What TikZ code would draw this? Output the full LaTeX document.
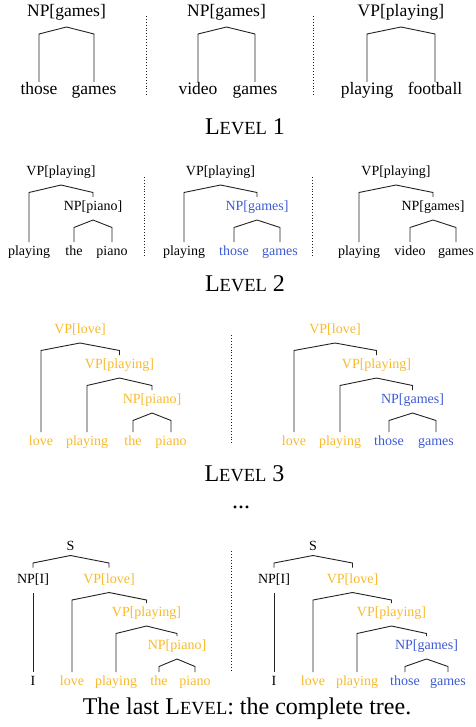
\documentclass[tikz,border=0pt]{standalone}
\usepackage{fontspec}
\setmainfont{Liberation Serif}
\usetikzlibrary{calc}
\definecolor{yel}{HTML}{F9B92A}
\definecolor{blu}{HTML}{3D5AD6}
\definecolor{edgec}{HTML}{222222}
\newcommand{\apx}{12}
\newcommand{\crn}{7.5}
\newcommand{\lgp}{11}
% #1 parent, #2 left child, #3 right child
\newcommand{\branch}[3]{%
  \path ($(#1)+(0,\apx)$) coordinate (#1-ap) ++(0,\crn) coordinate (#1-co);
  \draw[edge] ($(#2)+(0,-\lgp)$) -- (#2 |- #1-co) -- (#1-ap) -- (#3 |- #1-co) -- ($(#3)+(0,-\lgp)$);
}
\newcommand{\lvl}[1]{\fontsize{24}{28}\selectfont L{\fontsize{18.5}{22}\selectfont EVEL}#1}
\begin{document}
\begin{tikzpicture}[x=1pt,y=-1pt,
  edge/.style={draw=edgec,line width=0.9pt,line join=miter},
  sep/.style={draw=edgec,line width=0.9pt,dotted},
  big/.style={inner sep=0pt,font=\fontsize{17.5}{20}\selectfont,text height=0.7em,text depth=0.2em},
  lab/.style={inner sep=0pt,font=\fontsize{14}{16}\selectfont,text height=0.7em,text depth=0.2em},
  ttl/.style={inner sep=0pt,anchor=base}]
\useasboundingbox (0,0) rectangle (475,727);

% ---------- Level 1 ----------
\node[big] (a1) at (66.5,14) {NP[games]};
\node[big] (a1l) at (39,92.3) {those};
\node[big] (a1r) at (94,92.3) {games};
\node[big] (a2) at (226.5,14) {NP[games]};
\node[big] (a2l) at (198,92.3) {video};
\node[big] (a2r) at (255,92.3) {games};
\node[big] (a3) at (401,14) {VP[playing]};
\node[big] (a3l) at (367,92.3) {playing};
\node[big] (a3r) at (435,92.3) {football};
\begingroup
\renewcommand{\apx}{13}\renewcommand{\crn}{7}\renewcommand{\lgp}{10.5}
\branch{a1}{a1l}{a1r}
\branch{a2}{a2l}{a2r}
\branch{a3}{a3l}{a3r}
\endgroup
\coordinate (s1t) at (146,16); \coordinate (s1b) at (146,97);
\coordinate (s2t) at (313,16); \coordinate (s2b) at (313,97);
\draw[sep] (s1t) -- (s1b);
\draw[sep] (s2t) -- (s2b);
\node[ttl] (t1) at (245,135) {\lvl{ 1}};

% ---------- Level 2 ----------
\node[lab] (b1) at (61,173) {VP[playing]};
\node[lab] (b1l) at (29,253.2) {playing};
\node[lab] (b1n) at (93,208) {NP[piano]};
\node[lab] (b1a) at (74,253.2) {the};
\node[lab] (b1b) at (112,253.2) {piano};
\branch{b1}{b1l}{b1n}
\branch{b1n}{b1a}{b1b}
\node[lab] (b2) at (220.5,173) {VP[playing]};
\node[lab] (b2l) at (184,253.2) {playing};
\node[lab,text=blu] (b2n) at (257,208) {NP[games]};
\node[lab,text=blu] (b2a) at (234,253.2) {those};
\node[lab,text=blu] (b2b) at (280,253.2) {games};
\branch{b2}{b2l}{b2n}
\branch{b2n}{b2a}{b2b}
\node[lab] (b3) at (396,173) {VP[playing]};
\node[lab] (b3l) at (359,253.2) {playing};
\node[lab] (b3n) at (433,208) {NP[games]};
\node[lab] (b3a) at (410,253.2) {video};
\node[lab] (b3b) at (456,253.2) {games};
\branch{b3}{b3l}{b3n}
\branch{b3n}{b3a}{b3b}
\coordinate (s3t) at (144,177); \coordinate (s3b) at (144,257);
\coordinate (s4t) at (312,177); \coordinate (s4b) at (312,257);
\draw[sep] (s3t) -- (s3b);
\draw[sep] (s4t) -- (s4b);
\node[ttl] (t2) at (245,291.5) {\lvl{ 2}};

% ---------- Level 3 ----------
\node[lab,text=yel] (c1) at (80,331) {VP[love]};
\node[lab,text=yel] (c1l) at (41,443.2) {love};
\node[lab,text=yel] (c1v) at (119.5,366) {VP[playing]};
\node[lab,text=yel] (c1p) at (87,443.2) {playing};
\node[lab,text=yel] (c1n) at (152,401) {NP[piano]};
\node[lab,text=yel] (c1a) at (133,443.2) {the};
\node[lab,text=yel] (c1b) at (171,443.2) {piano};
\branch{c1}{c1l}{c1v}
\branch{c1v}{c1p}{c1n}
\branch{c1n}{c1a}{c1b}
\node[lab,text=yel] (c2) at (335,331) {VP[love]};
\node[lab,text=yel] (c2l) at (294,443.2) {love};
\node[lab,text=yel] (c2v) at (376.5,366) {VP[playing]};
\node[lab,text=yel] (c2p) at (340,443.2) {playing};
\node[lab,text=blu] (c2n) at (412.5,401) {NP[games]};
\node[lab,text=blu] (c2a) at (389,443.2) {those};
\node[lab,text=blu] (c2b) at (436,443.2) {games};
\branch{c2}{c2l}{c2v}
\branch{c2v}{c2p}{c2n}
\branch{c2n}{c2a}{c2b}
\coordinate (s5t) at (231,335); \coordinate (s5b) at (231,444);
\draw[sep] (s5t) -- (s5b);
\node[ttl] (t3) at (244.5,481) {\lvl{ 3}};
\node[ttl,font=\fontsize{24}{28}\selectfont] (dots) at (241,508) {...};

% ---------- Last level ----------
\node[lab] (d1) at (70.5,548) {S};
\node[lab] (d1i) at (33,580.5) {NP[I]};
\node[lab] (d1iw) at (33,683.2) {I};
\node[lab,text=yel] (d1v) at (109,580.5) {VP[love]};
\node[lab,text=yel] (d1l) at (72,683.2) {love};
\node[lab,text=yel] (d1w) at (146.5,614) {VP[playing]};
\node[lab,text=yel] (d1p) at (116,683.2) {playing};
\node[lab,text=yel] (d1n) at (177,647) {NP[piano]};
\node[lab,text=yel] (d1a) at (159,683.2) {the};
\node[lab,text=yel] (d1b) at (195,683.2) {piano};
\begingroup
\renewcommand{\apx}{7.5}\renewcommand{\crn}{7.5}\renewcommand{\lgp}{13}
\branch{d1}{d1i}{d1v}
\endgroup
\draw[edge] ($(d1i)+(0,12.5)$) -- ($(d1iw)+(0,-11)$);
\branch{d1v}{d1l}{d1w}
\branch{d1w}{d1p}{d1n}
\branch{d1n}{d1a}{d1b}
\node[lab] (d2) at (313,548) {S};
\node[lab] (d2i) at (274,580.5) {NP[I]};
\node[lab] (d2iw) at (274,683.2) {I};
\node[lab,text=yel] (d2v) at (352.5,580.5) {VP[love]};
\node[lab,text=yel] (d2l) at (313,683.2) {love};
\node[lab,text=yel] (d2w) at (391.5,614) {VP[playing]};
\node[lab,text=yel] (d2p) at (357,683.2) {playing};
\node[lab,text=blu] (d2n) at (426.5,647) {NP[games]};
\node[lab,text=blu] (d2a) at (405,683.2) {those};
\node[lab,text=blu] (d2b) at (448,683.2) {games};
\begingroup
\renewcommand{\apx}{7.5}\renewcommand{\crn}{7.5}\renewcommand{\lgp}{13}
\branch{d2}{d2i}{d2v}
\endgroup
\draw[edge] ($(d2i)+(0,12.5)$) -- ($(d2iw)+(0,-11)$);
\branch{d2v}{d2l}{d2w}
\branch{d2w}{d2p}{d2n}
\branch{d2n}{d2a}{d2b}
\coordinate (s6t) at (231,551); \coordinate (s6b) at (231,670);
\draw[sep] (s6t) -- (s6b);
\node[ttl,font=\fontsize{24}{28}\selectfont] (cap) at (247,714) {The last L{\fontsize{18.5}{22}\selectfont EVEL}: the complete tree.};
\end{tikzpicture}
\end{document}
